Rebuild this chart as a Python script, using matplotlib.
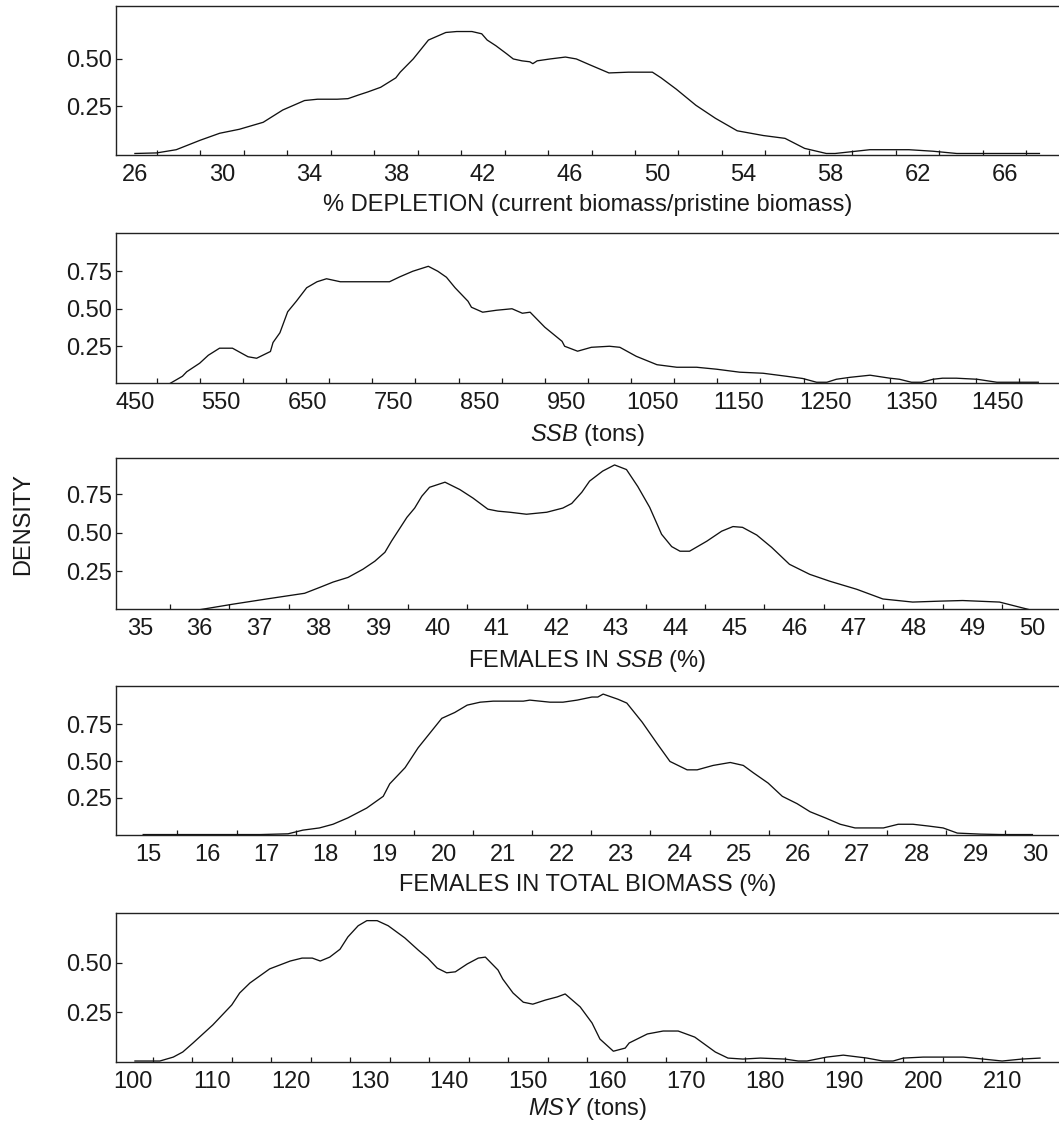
import matplotlib
matplotlib.use("Agg")
import matplotlib.pyplot as plt
import numpy as np

plt.rcParams['font.family'] = ['Liberation Sans', 'DejaVu Sans']
plt.rcParams['mathtext.fontset'] = 'custom'
plt.rcParams['mathtext.rm'] = 'Liberation Sans'
plt.rcParams['mathtext.it'] = 'Liberation Sans:italic'

# ---- data ----
depl_x = [26.0, 27.0, 27.9, 29.0, 29.9, 30.8, 31.9, 32.8, 33.8, 34.4, 35.3, 35.8, 36.3, 36.7, 37.3, 38.0,
          38.2, 38.8, 39.5, 40.3, 40.8, 41.5, 41.95, 42.2, 42.6, 43.1, 43.4, 43.8, 44.16, 44.3, 44.5, 45.1,
          45.8, 46.3, 46.9, 47.8, 48.7, 49.8, 50.2, 50.9, 51.8, 52.7, 53.7, 54.9, 55.9, 56.8, 57.8, 58.2,
          58.6, 59.8, 61.6, 62.7, 63.8, 64.8, 67.6]
depl_y = [0, 0.003, 0.02, 0.07, 0.107, 0.128, 0.165, 0.23, 0.28, 0.287, 0.287, 0.29, 0.31, 0.325, 0.35, 0.40,
          0.43, 0.50, 0.60, 0.64, 0.645, 0.645, 0.633, 0.60, 0.57, 0.527, 0.50, 0.49, 0.485, 0.475, 0.49, 0.50,
          0.51, 0.50, 0.47, 0.426, 0.43, 0.43, 0.40, 0.34, 0.255, 0.186, 0.12, 0.095, 0.08, 0.027, 0, 0,
          0.005, 0.02, 0.02, 0.012, 0, 0, 0]

ssb_x = [452, 475, 490, 505, 510, 525, 535, 548, 563, 581, 591, 607, 610, 618, 627, 637, 649, 661, 672, 688,
         745, 757, 772, 790, 801, 811, 821, 836, 840, 853, 869, 887, 899, 908, 925, 945, 948, 963, 979, 1000,
         1012, 1031, 1055, 1078, 1101, 1124, 1151, 1178, 1205, 1224, 1240, 1252, 1263, 1279, 1302, 1325,
         1336, 1350, 1362, 1375, 1386, 1402, 1426, 1449, 1497]
ssb_y = [0, 0, 0, 0.05, 0.08, 0.137, 0.19, 0.237, 0.237, 0.18, 0.17, 0.215, 0.275, 0.34, 0.48, 0.55, 0.64,
         0.68, 0.70, 0.68, 0.68, 0.713, 0.75, 0.783, 0.75, 0.71, 0.64, 0.55, 0.51, 0.477, 0.49, 0.50, 0.47,
         0.477, 0.377, 0.283, 0.25, 0.217, 0.243, 0.25, 0.243, 0.183, 0.127, 0.11, 0.11, 0.097, 0.077, 0.07,
         0.05, 0.035, 0.01, 0.01, 0.03, 0.043, 0.057, 0.037, 0.03, 0.01, 0.01, 0.03, 0.037, 0.037, 0.03,
         0.01, 0.01]

fssb_x = [36.0, 36.56, 37.13, 37.77, 38.03, 38.25, 38.5, 38.75, 38.95, 39.12, 39.23, 39.49, 39.62, 39.74,
          39.87, 40.13, 40.38, 40.6, 40.85, 41.02, 41.22, 41.5, 41.84, 42.11, 42.26, 42.43, 42.56, 42.78,
          42.98, 43.18, 43.37, 43.57, 43.77, 43.94, 44.08, 44.24, 44.53, 44.78, 44.97, 45.13, 45.37, 45.62,
          45.92, 46.26, 46.6, 47.05, 47.49, 47.99, 48.45, 48.83, 49.45, 49.96]
fssb_y = [0, 0.036, 0.07, 0.107, 0.146, 0.18, 0.21, 0.263, 0.315, 0.373, 0.445, 0.6, 0.66, 0.737, 0.795,
          0.828, 0.78, 0.725, 0.653, 0.64, 0.633, 0.62, 0.633, 0.66, 0.69, 0.763, 0.835, 0.9, 0.94, 0.91,
          0.80, 0.665, 0.49, 0.41, 0.38, 0.38, 0.445, 0.51, 0.54, 0.535, 0.485, 0.405, 0.295, 0.23, 0.185,
          0.133, 0.07, 0.05, 0.056, 0.06, 0.05, 0]

ftot_x = [14.92, 16.9, 17.37, 17.62, 17.9, 18.13, 18.38, 18.7, 18.98, 19.09, 19.35, 19.57, 19.74, 19.97,
          20.19, 20.4, 20.62, 20.84, 21.35, 21.46, 21.8, 22.02, 22.26, 22.51, 22.61, 22.7, 22.95, 23.1,
          23.36, 23.61, 23.83, 24.12, 24.29, 24.56, 24.85, 25.07, 25.24, 25.49, 25.73, 25.98, 26.2, 26.46,
          26.71, 26.96, 27.44, 27.69, 27.94, 28.2, 28.45, 28.69, 29.08, 29.45, 29.96]
ftot_y = [0, 0, 0.005, 0.03, 0.045, 0.07, 0.113, 0.18, 0.26, 0.345, 0.455, 0.59, 0.675, 0.79, 0.83, 0.88,
          0.90, 0.907, 0.907, 0.914, 0.90, 0.90, 0.914, 0.935, 0.935, 0.955, 0.92, 0.894, 0.764, 0.62,
          0.497, 0.44, 0.44, 0.47, 0.49, 0.47, 0.42, 0.35, 0.26, 0.21, 0.155, 0.113, 0.07, 0.045, 0.045,
          0.07, 0.07, 0.058, 0.045, 0.01, 0.003, 0, 0]

msy_x = [100.25, 103.4, 105.1, 106.3, 107.6, 110.1, 112.5, 113.5, 114.8, 117.3, 119.9, 121.4, 122.7, 123.7,
         124.9, 126.2, 127.2, 128.5, 129.6, 130.9, 132.3, 134.4, 136.1, 137.3, 138.5, 139.7, 140.8, 142.3,
         143.7, 144.6, 146.2, 146.8, 148.1, 149.4, 150.6, 152.2, 153.7, 154.7, 156.6, 158.1, 159.1, 160.8,
         162.3, 162.8, 165.1, 167.1, 169.0, 171.1, 173.7, 175.3, 177.2, 179.4, 182.5, 184.2, 185.3, 187.8,
         189.9, 192.9, 194.9, 196.2, 197.5, 200.0, 205.1, 207.6, 210.0, 212.5, 214.8]
msy_y = [0, 0, 0.02, 0.046, 0.092, 0.184, 0.286, 0.347, 0.398, 0.47, 0.51, 0.525, 0.525, 0.51, 0.53, 0.57,
         0.633, 0.69, 0.716, 0.716, 0.69, 0.628, 0.566, 0.525, 0.474, 0.45, 0.455, 0.495, 0.525, 0.53,
         0.464, 0.418, 0.347, 0.30, 0.29, 0.311, 0.327, 0.342, 0.276, 0.194, 0.112, 0.05, 0.066, 0.092,
         0.138, 0.153, 0.153, 0.122, 0.046, 0.015, 0.01, 0.015, 0.01, 0, 0, 0.02, 0.03, 0.015, 0, 0,
         0.015, 0.02, 0.02, 0.01, 0, 0.01, 0.015]

depl_labels = [26, 30, 34, 38, 42, 46, 50, 54, 58, 62, 66]
ssb_labels = [450, 550, 650, 750, 850, 950, 1050, 1150, 1250, 1350, 1450]
fssb_labels = list(range(35, 51))
ftot_labels = list(range(15, 31))
msy_labels = list(range(100, 211, 10))

xlabels = ["% DEPLETION (current biomass/pristine biomass)",
           r"$\mathit{SSB}$ (tons)",
           r"FEMALES IN $\mathit{SSB}$ (%)",
           "FEMALES IN TOTAL BIOMASS (%)",
           r"$\mathit{MSY}$ (tons)"]

# ---- layout ----
W, H = 1059, 1124
fig = plt.figure(figsize=(W / 100, H / 100), dpi=100)

panels = [
    dict(x=depl_x, y=depl_y, top=6, bot=155, xlim=(25.13, 68.5), ylim=(-0.008, 0.78),
         yt=[0.25, 0.50], xt=depl_labels, minor=np.arange(27, 68, 2), lp=6),
    dict(x=ssb_x, y=ssb_y, top=233, bot=383, xlim=(428, 1521), ylim=(0.005, 1.005),
         yt=[0.25, 0.50, 0.75], xt=ssb_labels, minor=np.arange(475, 1500, 50), lp=6),
    dict(x=fssb_x, y=fssb_y, top=458, bot=609, xlim=(34.6, 50.45), ylim=(0.005, 0.985),
         yt=[0.25, 0.50, 0.75], xt=fssb_labels, minor=np.arange(35.5, 50, 1.0), lp=6),
    dict(x=ftot_x, y=ftot_y, top=686, bot=835, xlim=(14.46, 30.41), ylim=(-0.003, 1.01),
         yt=[0.25, 0.50, 0.75], xt=ftot_labels, minor=np.arange(15.5, 30, 1.0), lp=6),
    dict(x=msy_x, y=msy_y, top=913, bot=1062, xlim=(97.85, 217.2), ylim=(-0.005, 0.755),
         yt=[0.25, 0.50], xt=msy_labels, minor=np.arange(102.5, 214, 5.0), lp=2),
]

left_px = 116
fs = 17
ink = '#1a1a1a'
for p, xl in zip(panels, xlabels):
    ax = fig.add_axes([left_px / W, 1 - p['bot'] / H, (W - left_px) / W, (p['bot'] - p['top']) / H])
    ax.plot(p['x'], p['y'], color='#111111', lw=0.95)
    ax.set_xlim(*p['xlim'])
    ax.set_ylim(*p['ylim'])
    ax.spines['right'].set_visible(False)
    for s in ['left', 'top', 'bottom']:
        ax.spines[s].set_linewidth(1.0)
        ax.spines[s].set_color('#222222')
    ax.set_yticks(p['yt'])
    ax.set_yticklabels([f"{v:.2f}" for v in p['yt']])
    ax.set_xticks(p['xt'])
    ax.set_xticklabels([str(v) for v in p['xt']])
    ax.set_xticks(p['minor'], minor=True)
    ax.tick_params(axis='y', direction='in', length=4.5, width=0.9, pad=3, labelsize=fs,
                   colors=ink)
    ax.tick_params(axis='x', which='major', length=0, pad=6.5, labelsize=fs, colors=ink)
    ax.tick_params(axis='x', which='minor', direction='in', length=3.8, width=0.9, color=ink)
    ax.set_xlabel(xl, fontsize=fs, color=ink, labelpad=p['lp'])

fig.text(23 / W, 1 - 524 / H, "DENSITY", rotation=90, ha='center', va='center',
         fontsize=fs, color=ink)

fig.savefig("out.png", dpi=100)
